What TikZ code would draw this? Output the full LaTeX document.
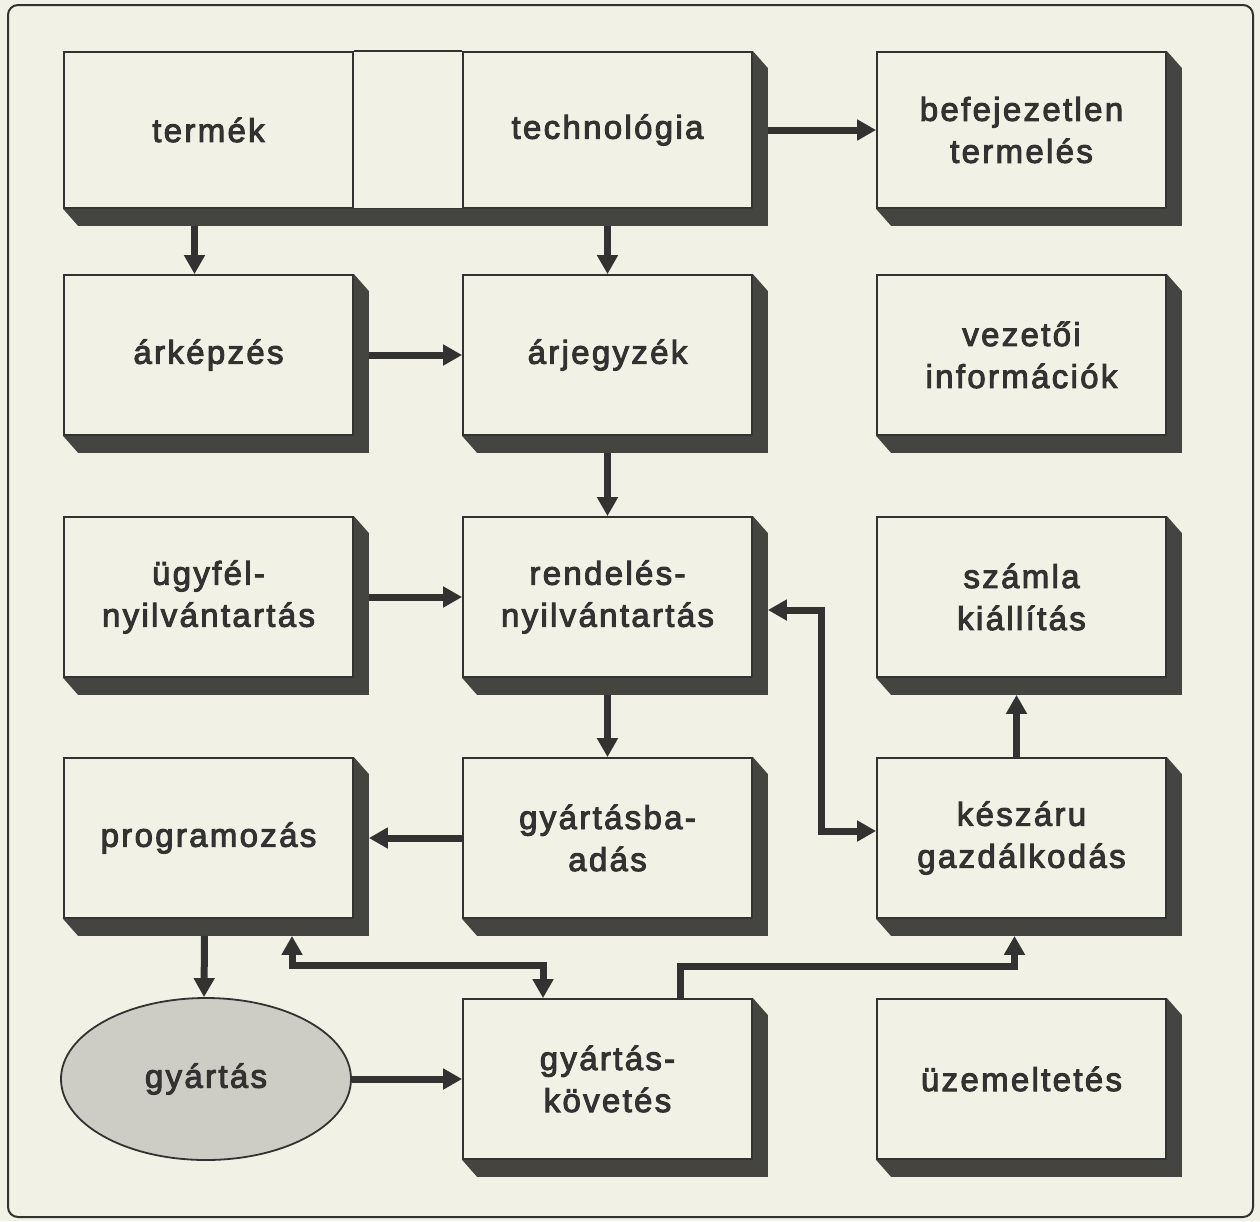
\documentclass[tikz,border=0pt]{standalone}
\usepackage{fontspec}
\setmainfont{Liberation Sans}[LetterSpace=7,FakeBold=3]
\usetikzlibrary{arrows.meta,shapes.geometric,calc}
\definecolor{bgc}{RGB}{242,241,229}
\definecolor{ink}{RGB}{50,50,48}
\definecolor{shc}{RGB}{68,68,64}
\definecolor{ovalc}{RGB}{205,205,197}
\newcommand\boxshade[1]{\fill[shc] (#1.north east) -- ++(15,17) -- ([shift={(15pt,-17pt)}]#1.south east) -- ([shift={(15pt,-17pt)}]#1.south west) -- (#1.south west) -- (#1.south east) -- cycle;}
\begin{document}
\begin{tikzpicture}[x=1pt,y=-1pt,
  box/.style={draw=ink,line width=1.8pt,fill=bgc,minimum width=289pt,minimum height=160pt,inner sep=0pt,align=center,text=ink,font=\fontsize{33}{42}\selectfont},
  topbox/.style={box,minimum height=156pt},
  arr/.style={draw=ink,line width=7pt,-{Triangle[length=19pt,width=20pt]}},
  dbl/.style={draw=ink,line width=7pt,{Triangle[length=19pt,width=20pt]}-{Triangle[length=19pt,width=20pt]}},
  ]
\fill[bgc] (0,0) rectangle (1260,1221);
\useasboundingbox (0,0) rectangle (1260,1221);
\draw[ink,line width=2pt,rounded corners=10pt] (8,5) rectangle (1253,1217);

% row 1
\node[topbox] (termek) at (208.5,130) {termék};
\node[topbox] (techn) at (607.5,130) {technológia};
\node[topbox] (befej) at (1021.5,130) {befejezetlen\\termelés};
% row 2
\node[box] (arkepzes) at (208.5,355) {árképzés};
\node[box] (arjegyzek) at (607.5,355) {árjegyzék};
\node[box] (vezetoi) at (1021.5,355) {vezetői\\információk};
% row 3
\node[box] (ugyfel) at (208.5,597) {ügyfél-\\nyilvántartás};
\node[box] (rendeles) at (607.5,597) {rendelés-\\nyilvántartás};
\node[box] (szamla) at (1021.5,597) {számla\\kiállítás};
% row 4
\node[box] (programozas) at (208.5,838) {programozás};
\node[box] (gyartasba) at (607.5,838) {gyártásba-\\adás};
\node[box] (keszaru) at (1021.5,838) {készáru\\gazdálkodás};
% row 5
\node[draw=ink,line width=1.8pt,fill=ovalc,ellipse,minimum width=290pt,minimum height=162pt,inner sep=0pt,text=ink,font=\fontsize{33}{42}\selectfont] (gyartas) at (206,1079) {gyártás};
\node[box] (gyartaskov) at (607.5,1079) {gyártás-\\követés};
\node[box] (uzem) at (1021.5,1079) {üzemeltetés};

% joined top box
\draw[ink,line width=1.8pt] (termek.north east) -- (techn.north west) (termek.south east) -- (techn.south west);
\fill[shc] (techn.north east) -- ++(15,17) -- ([shift={(15pt,-17pt)}]techn.south east) -- ([shift={(15pt,-17pt)}]termek.south west) -- (termek.south west) -- (techn.south east) -- cycle;
\foreach \n in {befej,arkepzes,arjegyzek,vezetoi,ugyfel,rendeles,szamla,programozas,gyartasba,keszaru,gyartaskov,uzem}{\boxshade{\n}}

% connectors
\draw[arr] ([xshift=-14pt,yshift=-17pt]termek.south) -- ([xshift=-14pt]arkepzes.north);
\draw[arr] ([yshift=-17pt]techn.south) -- (arjegyzek.north);
\draw[arr] ([xshift=15pt]techn.east) -- (befej.west);
\draw[arr] ([xshift=15pt]arkepzes.east) -- (arjegyzek.west);
\draw[arr] ([yshift=-17pt]arjegyzek.south) -- (rendeles.north);
\draw[arr] ([xshift=15pt]ugyfel.east) -- (rendeles.west);
\draw[arr] ([yshift=-17pt]rendeles.south) -- (gyartasba.north);
\draw[dbl] ([xshift=15pt,yshift=-13pt]rendeles.east) -- ++(54,0) |- ([yshift=7pt]keszaru.west);
\draw[arr] (gyartasba.west) -- ([xshift=15pt]programozas.east);
\draw[arr] ([xshift=-5pt]keszaru.north) -- ([xshift=-5pt,yshift=-17pt]szamla.south);
\draw[arr] ([xshift=-4pt,yshift=-17pt]programozas.south) -- ([xshift=-2pt]gyartas.north);
\draw[dbl] ([xshift=83.5pt,yshift=-17pt]programozas.south) -- ++(0,30) -| ([xshift=-64.5pt]gyartaskov.north);
\draw[arr] ([xshift=72.5pt]gyartaskov.north) -- ++(0,-32) -| ([xshift=-7pt,yshift=-17pt]keszaru.south);
\draw[arr] (gyartas.east) -- (gyartaskov.west);
\end{tikzpicture}
\end{document}
